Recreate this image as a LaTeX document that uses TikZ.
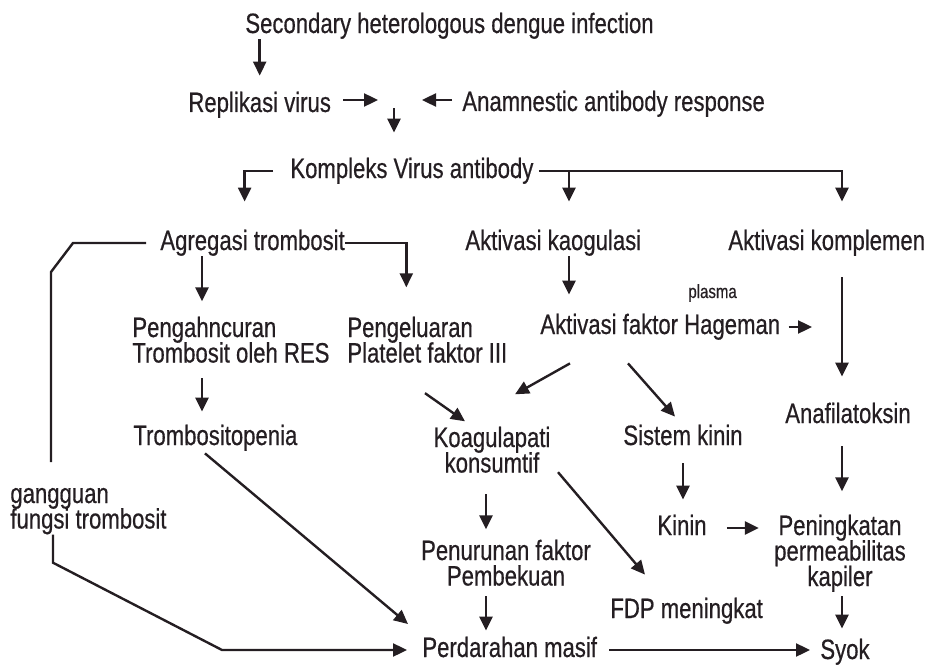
\documentclass[tikz,border=0pt]{standalone}
\usepackage{fontspec}
\setmainfont{Liberation Sans}[FakeStretch=0.79, FakeBold=0.5]
\usepackage{xcolor}
\usetikzlibrary{arrows.meta}
\definecolor{inkDark}{RGB}{36, 30, 34}
\setlength{\lineskiplimit}{-10pt}

\begin{document}
\begin{tikzpicture}[
        x=0.5pt, y=-0.5pt,
        font=\fontsize{14}{12.75}\selectfont\color{inkDark},
        txt/.style={inner sep=0pt, text height=10pt, text depth=3pt},
        blk/.style={inner sep=0pt, align=#1},
        blk/.default=center,
        arr/.style={-{Triangle[length=7pt, width=6.5pt]}, line width=1.2pt, inkDark},
        lin/.style={line width=1.2pt, inkDark}
    ]
    \useasboundingbox (0,0) rectangle (939,669);
    \node[txt, anchor=base west] (inf) at (245,33) {Secondary heterologous dengue infection};
    \node[txt, anchor=base west] (rep) at (188,112) {Replikasi virus};
    \node[txt, anchor=base west] (ana) at (462,111) {Anamnestic antibody response};
    \coordinate (mrg) at (394,100);
    \node[txt, anchor=base west] (kvab) at (290,178) {Kompleks Virus antibody};
    \node[txt, anchor=base west] (agr) at (160,250) {Agregasi trombosit};
    \node[txt, anchor=base west] (kao) at (465,250) {Aktivasi kaogulasi};
    \node[txt, anchor=base west] (kom) at (728,250) {Aktivasi komplemen};
    % multi-line nodes sit on the baseline of their last line
    \node[blk=left, anchor=base west] (peng) at (132,362.5) {Pengahncuran\\Trombosit oleh RES};
    \node[blk=left, anchor=base west] (pel) at (347,362.5) {Pengeluaran\\Platelet faktor III};
    \node[txt, anchor=base west, font=\fontsize{9.5}{10}\selectfont\color{inkDark}] (pls) at (688,298) {plasma};
    \node[txt, anchor=base west] (hag) at (540,334) {Aktivasi faktor Hageman};
    \node[txt, anchor=base west] (trp) at (133,445) {Trombositopenia};
    \node[blk, anchor=base] (koa) at (492,472.5) {Koagulapati\\konsumtif};
    \node[txt, anchor=base] (sk) at (683,445) {Sistem kinin};
    \node[txt, anchor=base] (anf) at (848,423) {Anafilatoksin};
    \node[blk=left, anchor=base west] (gang) at (10,528.5) {gangguan\\fungsi trombosit};
    \node[txt, anchor=base] (kin) at (682,535) {Kinin};
    \node[blk, anchor=base] (pen) at (840,586) {Peningkatan\\permeabilitas\\kapiler};
    \node[blk, anchor=base] (pnr) at (506,585.5) {Penurunan faktor\\Pembekuan};
    \node[txt, anchor=base west] (fdp) at (610,618) {FDP meningkat};
    \node[txt, anchor=base west] (per) at (422,657) {Perdarahan masif};
    \node[txt, anchor=base west] (syok) at (820,659) {Syok};
    % columns the arrows run along
    \coordinate (pgx) at ([xshift=35pt]peng.north west);
    \coordinate (kx) at ([xshift=52pt]kao.south west);
    \coordinate (rx) at ([xshift=57pt]kom.south west);
    \coordinate (kb) at ([xshift=-3pt]koa.south);
    % top part
    \draw[arr, shorten >=8pt] (rep.north |- inf.south) -- (rep.north);
    \draw[arr, shorten <=6pt, shorten >=8pt] (rep.east |- mrg) -- (mrg);
    \draw[arr, shorten <=5pt, shorten >=14pt] (ana.west |- mrg) -- (mrg);
    \draw[arr, shorten <=4pt, shorten >=12.5pt] (mrg) -- (mrg |- kvab.north);
    \draw[arr, shorten <=8.5pt, shorten >=14pt] (kvab.west) -| ([xshift=-4pt]agr.north);
    \draw[arr, shorten <=2.5pt, shorten >=14pt] (kvab.east) -| (rx |- kom.north);
    \draw[arr, shorten >=14pt] (kx |- kvab.east) -- (kx |- kao.north);
    % trombosit branch
    \draw[lin] ([xshift=-7pt]agr.west) -- ++(-73,0) -- ++(-22,29) -- ++(0,190);
    \draw[arr, shorten >=7.5pt] ([xshift=21.5pt]gang.south west) -- ++(0,28) -- ([xshift=-100pt]per.west) -- (per.west);
    \draw[arr, shorten >=14.5pt] (agr.east) -| ([xshift=-10.5pt]pel.north);
    \draw[arr, shorten >=7.5pt] (pgx |- agr.south) -- (pgx);
    \draw[arr, shorten <=7.5pt, shorten >=6.5pt] (pgx |- peng.south) -- (pgx |- trp.north);
    \draw[arr] ([xshift=39pt, yshift=-15pt]pel.south west) -- ([xshift=-13.5pt, yshift=2.5pt]koa.north);
    \draw[arr] ([xshift=36pt, yshift=-1pt]trp.south west) -- ([xshift=-7pt, yshift=13pt]per.west);
    % koagulasi branch
    \draw[arr, shorten >=9.5pt] (kx) -- (kx |- hag.north);
    \draw[arr] ([xshift=15pt, yshift=-11.5pt]hag.south west) -- ([xshift=11.5pt, yshift=16pt]koa.north);
    \draw[arr] ([xshift=44pt, yshift=-11.5pt]hag.south west) -- ([xshift=-4pt, yshift=4pt]sk.north);
    \draw[arr, shorten <=4pt, shorten >=15pt] (hag.east) -- (hag.east -| rx);
    \draw[arr, shorten <=10.5pt, shorten >=5pt] (kb) -- (kb |- pnr.north);
    \draw[arr, shorten <=5pt, shorten >=3pt] (kb |- pnr.south) -- (kb |- per.north);
    \draw[arr] ([xshift=33pt, yshift=0.5pt]koa.south) -- ([xshift=17.5pt, yshift=11.5pt]fdp.north west);
    \draw[arr, shorten <=6pt, shorten >=7.5pt] (sk.south) -- (sk.south |- kin.north);
    \draw[arr, shorten <=10pt, shorten >=7.5pt] (kin.east) -- (kin.east -| pen.west);
    % komplemen branch
    \draw[arr, shorten <=10.5pt, shorten >=13pt] (rx |- kom.south) -- (rx |- anf.north);
    \draw[arr, shorten <=8.5pt, shorten >=11.5pt] (rx |- anf.south) -- (rx |- pen.north);
    \draw[arr, shorten <=2pt, shorten >=5pt] (rx |- pen.south) -- (rx |- syok.north);
    \draw[arr, shorten <=6pt, shorten >=5pt] (per.east) -- (per.east -| syok.west);
\end{tikzpicture}
\end{document}
